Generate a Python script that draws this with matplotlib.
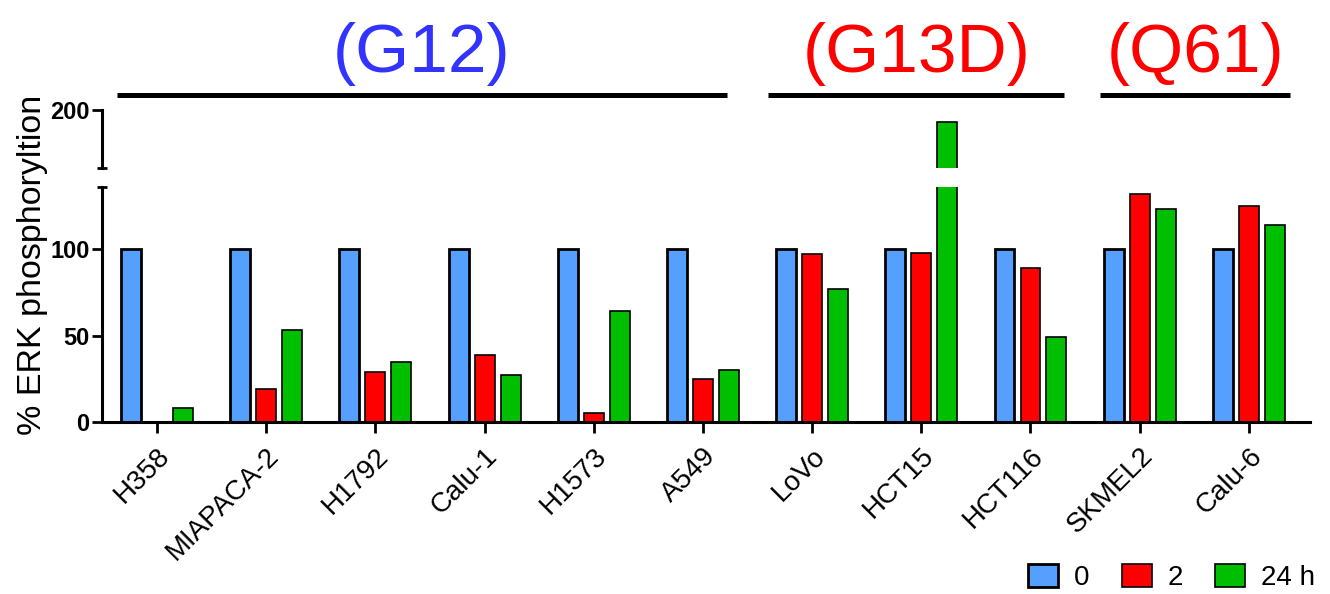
import numpy as np
import matplotlib
matplotlib.use("Agg")
import matplotlib.pyplot as plt
from matplotlib.transforms import blended_transform_factory

plt.rcParams['font.family'] = ['Liberation Sans', 'DejaVu Sans']

cell_lines = ['H358', 'MIAPACA-2', 'H1792', 'Calu-1', 'H1573', 'A549',
              'LoVo', 'HCT15', 'HCT116', 'SKMEL2', 'Calu-6']
t0 = [100, 100, 100, 100, 100, 100, 100, 100, 100, 100, 100]
t2 = [0, 19, 29, 39, 5, 25, 97, 98, 89, 132, 125]
t24 = [8, 53, 35, 27, 64, 30, 77, 193, 49, 123, 114]
series_labels = ['0', '2', '24 h']

groups = ['(G12)', '(G13D)', '(Q61)']
group_start = [-0.37, 5.6, 8.64]
group_end = [5.22, 8.31, 10.38]
group_colors = ['#3333ff', '#ff0000', '#ff0000']

colors = ['#55a0ff', '#ff0000', '#00bf00']
edge_w = [2.0, 1.2, 1.2]

W, H = 1330, 594
fig = plt.figure(figsize=(W / 100, H / 100), dpi=100)

left = 102 / W
width = (1310 - 102) / W
ax_lo = fig.add_axes([left, (H - 422) / H, width, (422 - 187) / H])
ax_hi = fig.add_axes([left, (H - 168) / H, width, (168 - 110) / H])

x = np.arange(len(cell_lines))
pitch = 0.238
bw = 0.183
for ax in (ax_lo, ax_hi):
    for k, vals in enumerate([t0, t2, t24]):
        ax.bar(x + (k - 1) * pitch, vals, bw, color=colors[k],
               edgecolor='black', linewidth=edge_w[k], label=series_labels[k])
    ax.set_xlim(-0.504, 10.56)
    for s in ['top', 'right']:
        ax.spines[s].set_visible(False)
    ax.spines['left'].set_linewidth(2.2)
    ax.spines['bottom'].set_linewidth(2.2)
    ax.tick_params(axis='y', which='major', length=7, width=2.0, pad=2)
    ax.tick_params(axis='y', which='minor', length=7, width=2.0,
                   direction='inout')

# lower segment
ax_lo.set_ylim(0, 136)
ax_lo.set_yticks([0, 50, 100])
ax_lo.set_yticks([136], minor=True)
ax_lo.set_yticklabels(['0', '50', '100'], fontweight='bold', fontsize=17)
ax_lo.set_xticks(x)
ax_lo.set_xticklabels(cell_lines, rotation=45, ha='right',
                      rotation_mode='anchor', fontsize=20)
ax_lo.tick_params(axis='x', length=8, width=2.0, pad=7)

# upper segment
ax_hi.set_ylim(166.4, 200)
ax_hi.set_yticks([200])
ax_hi.set_yticks([166.4], minor=True)
ax_hi.set_yticklabels(['200'], fontweight='bold', fontsize=17)
ax_hi.spines['bottom'].set_visible(False)
ax_hi.set_xticks([])

# group brackets and labels
tr = blended_transform_factory(ax_hi.transData, fig.transFigure)
for name, x0, x1, c in zip(groups, group_start, group_end, group_colors):
    ax_hi.plot([x0, x1], [(H - 95) / H] * 2, color='black', lw=3.6,
               transform=tr, clip_on=False, solid_capstyle='butt')
    ax_hi.text((x0 + x1) / 2, (H - 72) / H, name, color=c, fontsize=50,
               ha='center', va='baseline', transform=tr)

fig.text(33 / W, 1 - 265 / H, '% ERK phosphoryltion', rotation=90,
         fontsize=24.5, ha='center', va='center')

handles, labels = ax_lo.get_legend_handles_labels()
fig.legend(handles, labels, loc='lower right', bbox_to_anchor=(1318 / W, 0),
           ncol=3, frameon=False, fontsize=20, handlelength=1.08,
           handleheight=0.86, handletextpad=0.58, columnspacing=1.15,
           borderaxespad=0.0, borderpad=0.1)

fig.savefig('out.png', dpi=100)
